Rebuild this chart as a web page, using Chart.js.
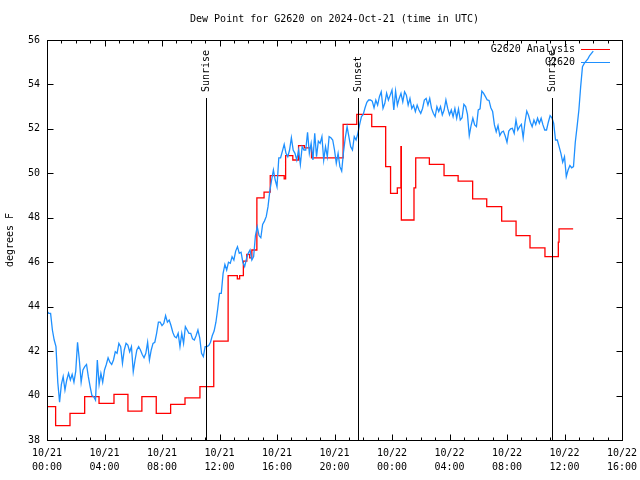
<!DOCTYPE html>
<html>
<head>
<meta charset="utf-8">
<script src="https://cdn.jsdelivr.net/npm/chart.js@4.4.1/dist/chart.umd.min.js"></script>
<style>
  html, body { margin: 0; padding: 0; background: #fff; }
  #wrap { width: 640px; height: 480px; }
</style>
</head>
<body>
<div id="wrap"><canvas id="dew-chart" width="640" height="480"></canvas></div>
<script>
// Dew point chart (gnuplot look-alike)
const chartTitle = 'Dew Point for G2620 on 2024-Oct-21 (time in UTC)';
const yTitle = 'degrees F';

// x axis in hours since 10/21 00:00
const xTickDates = ['10/21', '10/21', '10/21', '10/21', '10/21', '10/21', '10/22', '10/22', '10/22', '10/22', '10/22'];
const xTickTimes = ['00:00', '04:00', '08:00', '12:00', '16:00', '20:00', '00:00', '04:00', '08:00', '12:00', '16:00'];

const seriesLabels = ['G2620 Analysis', 'G2620'];
const seriesColors = ['#ff0000', '#1e90ff'];

// observations, one every 7.5 minutes from 00:00
const blueStepHours = 0.125;
const blueValues = [
  43.8, 43.7, 43.7, 42.95, 42.5, 42.2, 40.6, 39.7, 40.5, 40.85,
  40.25, 40.7, 41.0, 40.7, 40.95, 40.6, 41.1, 42.4, 41.6, 40.6,
  41.15, 41.3, 41.4, 40.85, 40.4, 40.0, 39.95, 39.8, 41.6, 40.5,
  41.0, 40.6, 41.15, 41.4, 41.7, 41.5, 41.4, 41.6, 41.97, 41.9,
  42.35, 42.2, 41.45, 42.05, 42.35, 42.27, 41.97, 42.2, 41.07, 41.6,
  42.05, 42.2, 42.05, 41.85, 41.7, 41.9, 42.4, 41.6, 42.05, 42.35,
  42.4, 42.8, 43.3, 43.3, 43.15, 43.25, 43.6, 43.3, 43.4, 43.15,
  42.85, 42.65, 42.6, 42.8, 42.2, 42.8, 42.35, 43.1, 42.95, 42.8,
  42.8, 42.55, 42.5, 42.7, 42.95, 42.6, 41.9, 41.75, 42.2, 42.2,
  42.25, 42.4, 42.7, 42.9, 43.3, 43.9, 44.6, 44.6, 45.5, 45.9,
  45.65, 46.0, 45.95, 46.25, 46.1, 46.5, 46.7, 46.4, 46.45, 46.0,
  45.8, 46.15, 46.4, 46.55, 46.1, 46.25, 47.2, 47.6, 47.2, 47.1,
  47.7, 47.85, 48.05, 48.5, 49.2, 49.7, 50.15, 49.7, 49.4, 50.7,
  50.7, 51.0, 51.3, 50.9, 50.75, 51.05, 51.6, 51.05, 50.9, 50.6,
  51.05, 50.4, 51.2, 51.05, 51.05, 51.85, 50.9, 51.35, 50.6, 51.8,
  50.75, 51.45, 51.35, 51.65, 50.6, 51.2, 50.75, 51.65, 51.6, 51.5,
  51.05, 50.45, 50.9, 50.3, 50.1, 50.95, 51.6, 52.1, 51.65, 51.2,
  51.05, 51.65, 51.5, 51.8, 52.2, 52.55, 52.65, 52.95, 53.2, 53.3,
  53.3, 53.25, 52.95, 53.3, 53.07, 53.45, 53.67, 52.92, 53.15, 53.6,
  53.3, 53.52, 53.75, 52.85, 53.7, 53.07, 53.37, 53.6, 53.22, 53.67,
  53.52, 53.07, 53.37, 52.92, 53.07, 52.78, 53.07, 52.85, 52.7, 52.92,
  53.3, 53.37, 53.07, 53.37, 52.92, 52.7, 52.55, 53.0, 52.78, 53.0,
  52.63, 52.85, 53.3, 52.92, 52.63, 52.85, 52.55, 52.92, 52.48, 52.9,
  52.4, 52.5, 53.1, 53.0, 52.65, 51.7, 52.15, 52.48, 52.18, 52.1,
  52.85, 52.9, 53.7, 53.6, 53.45, 53.3, 53.28, 52.95, 52.78, 52.18,
  51.87, 52.15, 51.7, 51.85, 51.9, 51.68, 51.4, 51.9, 52.0, 52.03,
  51.8, 52.4, 51.95, 52.1, 52.2, 51.6, 52.3, 52.8, 52.6, 52.3,
  52.1, 52.4, 52.2, 52.48, 52.25, 52.48, 52.18, 51.95, 51.95, 52.3,
  52.6, 52.5, 52.25, 51.5, 51.5, 51.2, 50.9, 50.5, 50.75, 49.85,
  50.15, 50.35, 50.25, 50.3, 51.4, 52.1, 52.85, 53.9, 54.8, 54.95,
  55.05, 55.15, 55.3, 55.4, 55.5
];

// analysis, stepped
const redTimes = [
  0, 0.6, 1.6, 2.62, 3.62, 4.66, 5.63, 6.6, 7.6, 8.6,
  9.6, 10.64, 11.6, 12.6, 13.24, 13.4, 13.66, 13.9, 14.1, 14.25,
  14.6, 15.1, 15.53, 16.5, 16.6, 17.1, 17.5, 17.9, 18.4, 20.6,
  21.55, 22.59, 23.56, 23.9, 24.37, 24.62, 24.65, 25.53, 25.65, 26.6,
  27.62, 28.6, 29.61, 30.59, 31.63, 32.63, 33.6, 34.64, 35.57, 35.62,
  36.6
];
const redValues = [
  39.5, 38.65, 39.2, 39.95, 39.65, 40.05, 39.3, 39.95, 39.2, 39.6,
  39.9, 40.4, 42.45, 45.4, 45.25, 45.4, 46.05, 46.35, 46.2, 46.55,
  48.9, 49.15, 49.9, 49.75, 50.8, 50.6, 51.25, 51.15, 50.7, 52.2,
  52.65, 52.1, 50.3, 49.1, 49.35, 51.2, 47.9, 49.35, 50.7, 50.4,
  49.9, 49.65, 48.85, 48.5, 47.85, 47.2, 46.65, 46.25, 46.9, 47.5,
  47.5
];

const sunTimes = [11.06, 21.63, 35.13];
const sunLabels = ['Sunrise', 'Sunset', 'Sunrise'];

const FONT = "'DejaVu Sans Mono', monospace";
Chart.defaults.color = '#000';
Chart.defaults.font.family = FONT;
Chart.defaults.font.size = 10;

const gnuplotPlugin = {
  id: 'gnuplotDecor',
  afterDatasetsDraw(chart) {
    const { ctx, chartArea: a, scales: { x, y } } = chart;
    const L = Math.round(a.left) + 0.5, R = Math.round(a.right) + 0.5;
    const T = Math.round(a.top) + 0.5, B = Math.round(a.bottom) + 0.5;
    ctx.save();
    ctx.strokeStyle = '#000';
    ctx.lineWidth = 1;

    // ticks, mirrored like gnuplot
    ctx.beginPath();
    for (let h = x.min; h <= x.max; h++) {
      const px = Math.round(x.getPixelForValue(h)) + 0.5;
      const len = h % 4 === 0 ? 6 : 3;
      ctx.moveTo(px, B); ctx.lineTo(px, B - len);
      ctx.moveTo(px, T); ctx.lineTo(px, T + len);
    }
    y.ticks.forEach(t => {
      const py = Math.round(y.getPixelForValue(t.value)) + 0.5;
      ctx.moveTo(L, py); ctx.lineTo(L + 6, py);
      ctx.moveTo(R, py); ctx.lineTo(R - 6, py);
    });
    ctx.stroke();

    // sunrise / sunset markers
    ctx.font = '10px ' + FONT;
    ctx.fillStyle = '#000';
    sunTimes.forEach((t, i) => {
      const px = Math.round(x.getPixelForValue(t)) + 0.5;
      const top = a.top + 58;
      ctx.beginPath();
      ctx.moveTo(px, B); ctx.lineTo(px, top);
      ctx.stroke();
      ctx.save();
      ctx.translate(px, top - 6);
      ctx.rotate(-Math.PI / 2);
      ctx.textAlign = 'left';
      ctx.textBaseline = 'middle';
      ctx.fillText(sunLabels[i], 0, 0);
      ctx.restore();
    });

    // key, top right
    seriesLabels.forEach((label, i) => {
      const ly = a.top + 9 + 13 * i;
      ctx.textAlign = 'right';
      ctx.textBaseline = 'middle';
      ctx.fillText(label, a.right - 47, ly);
      ctx.strokeStyle = seriesColors[i];
      ctx.beginPath();
      ctx.moveTo(a.right - 41, Math.round(ly) + 0.5);
      ctx.lineTo(a.right - 12, Math.round(ly) + 0.5);
      ctx.stroke();
    });

    ctx.strokeStyle = '#000';
    ctx.strokeRect(L, T, R - L, B - T);

    ctx.textAlign = 'center';
    ctx.textBaseline = 'middle';
    ctx.fillText(chartTitle, (a.left + a.right) / 2, 19);
    ctx.restore();
  }
};

const ctx = document.getElementById('dew-chart').getContext('2d');
new Chart(ctx, {
  type: 'line',
  data: {
    datasets: [
      {
        label: seriesLabels[0],
        data: redTimes.map((t, i) => ({ x: t, y: redValues[i] })),
        borderColor: seriesColors[0],
        stepped: 'before',
        order: 1
      },
      {
        label: seriesLabels[1],
        data: blueValues.map((v, i) => ({ x: i * blueStepHours, y: v })),
        borderColor: seriesColors[1],
        order: 0
      }
    ]
  },
  options: {
    responsive: false,
    animation: false,
    devicePixelRatio: 1,
    layout: { padding: { top: 40, right: 18, left: 0, bottom: 0 } },
    elements: {
      point: { radius: 0 },
      line: { borderWidth: 1.3, tension: 0 }
    },
    plugins: {
      legend: { display: false },
      title: { display: false },
      tooltip: { enabled: false }
    },
    scales: {
      x: {
        type: 'linear',
        min: 0,
        max: 40,
        grid: { display: false, drawTicks: false },
        border: { display: false },
        ticks: {
          stepSize: 4,
          autoSkip: false,
          maxRotation: 0,
          padding: 6,
          font: { lineHeight: 1.4 },
          callback: (v) => {
            const i = Math.round(v / 4);
            return [xTickDates[i], xTickTimes[i]];
          }
        },
        // keep the plot box fixed; labels may overhang into the padding
        afterFit: (s) => { s.height = 40; s.paddingLeft = 0; s.paddingRight = 0; }
      },
      y: {
        min: 38,
        max: 56,
        grid: { display: false, drawTicks: false },
        border: { display: false },
        ticks: { stepSize: 2, padding: 7 },
        title: { display: true, text: yTitle, padding: { top: 4, bottom: 4 } },
        afterFit: (s) => { s.width = 47; }
      }
    }
  },
  plugins: [gnuplotPlugin]
});
</script>
</body>
</html>
